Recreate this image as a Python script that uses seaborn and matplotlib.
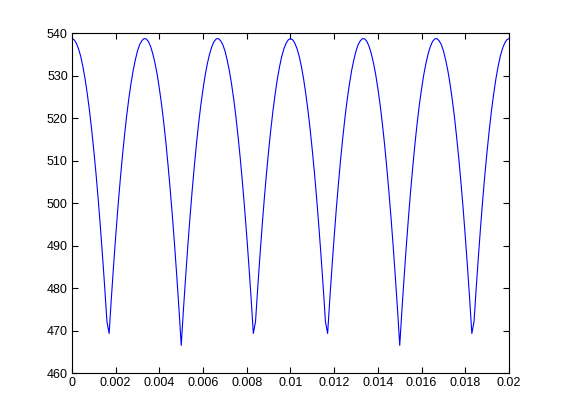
import numpy as np
import pandas as pd
import matplotlib
matplotlib.use("Agg")
import matplotlib.pyplot as plt
import seaborn as sns

half_cycle = [
    538.7, 538.4, 537.6, 536.3, 534.5, 532.1, 529.2, 525.7, 521.8, 517.3,
    512.3, 506.9, 500.9, 494.4, 487.4, 480.0, 472.1, 469.3, 477.4, 485.0,
    492.1, 498.8, 504.9, 510.6, 515.7, 520.4, 524.5, 528.1, 531.2, 533.7,
    535.8, 537.3, 538.2, 538.7, 538.6, 538.0, 536.8, 535.1, 532.9, 530.2,
    526.9, 523.2, 518.9, 514.1, 508.7, 502.9, 496.6, 489.8, 482.5, 474.8,
    466.5, 474.8, 482.5, 489.8, 496.6, 502.9, 508.7, 514.1, 518.9, 523.2,
    526.9, 530.2, 532.9, 535.1, 536.8, 538.0, 538.6, 538.7, 538.2, 537.3,
    535.8, 533.7, 531.2, 528.1, 524.5, 520.4, 515.7, 510.6, 504.9, 498.8,
    492.1, 485.0, 477.4, 469.3, 472.1, 480.0, 487.4, 494.4, 500.9, 506.9,
    512.3, 517.3, 521.8, 525.7, 529.2, 532.1, 534.5, 536.3, 537.6, 538.4,
]
second_half = [
    538.7, 538.4, 537.6, 536.3, 534.5, 532.1, 529.2, 525.7, 521.8, 517.3,
    512.3, 506.9, 500.9, 494.4, 487.4, 480.0, 472.1, 469.3, 477.4, 485.0,
    492.1, 498.8, 504.9, 510.6, 515.7, 520.4, 524.5, 528.1, 531.2, 533.7,
    535.8, 537.3, 538.2, 538.7, 538.6, 538.0, 536.8, 535.1, 532.9, 530.2,
    526.9, 523.2, 518.9, 514.1, 508.7, 502.9, 496.6, 489.8, 482.5, 474.8,
    466.5, 474.8, 482.5, 489.8, 496.6, 502.9, 508.7, 514.1, 518.9, 523.2,
    526.9, 530.2, 532.9, 535.1, 536.8, 538.0, 538.6, 538.7, 538.2, 537.3,
    535.8, 533.7, 531.2, 528.1, 524.5, 520.4, 515.7, 510.6, 504.9, 498.8,
    492.1, 485.0, 477.4, 469.3, 472.1, 480.0, 487.4, 494.4, 500.9, 506.9,
    512.3, 517.3, 521.8, 525.7, 529.2, 532.1, 534.5, 536.3, 537.6, 538.4,
    538.7,
]
voltage = half_cycle + second_half
time = np.round(np.arange(len(voltage)) * 1e-4, 4)

x_ticks = [0, 0.002, 0.004, 0.006, 0.008, 0.01, 0.012, 0.014, 0.016, 0.018, 0.02]
x_labels = ["0", "0.002", "0.004", "0.006", "0.008", "0.01", "0.012", "0.014", "0.016", "0.018", "0.02"]
y_ticks = [460, 470, 480, 490, 500, 510, 520, 530, 540]

df = pd.DataFrame({"t": time, "v": voltage})

sns.set_style("ticks")
plt.rcParams["font.family"] = ["Liberation Sans", "DejaVu Sans"]

fig = plt.figure(figsize=(5.61, 4.20), dpi=100, facecolor="white")
ax = fig.add_axes([0.1283, 0.1119, 0.779, 0.8095])
sns.lineplot(data=df, x="t", y="v", ax=ax, color="#0000ff", linewidth=0.8)

ax.set_xlim(0, 0.02)
ax.set_ylim(460, 540)
ax.set_xticks(x_ticks)
ax.set_xticklabels(x_labels)
ax.set_yticks(y_ticks)
ax.set_xlabel("")
ax.set_ylabel("")
for s in ax.spines.values():
    s.set_visible(True)
    s.set_color("black")
    s.set_linewidth(0.8)
ax.tick_params(direction="in", length=4, width=0.8, labelsize=9,
               top=True, right=True, colors="black", pad=3)
fig.savefig("out.png", dpi=100, facecolor="white")
